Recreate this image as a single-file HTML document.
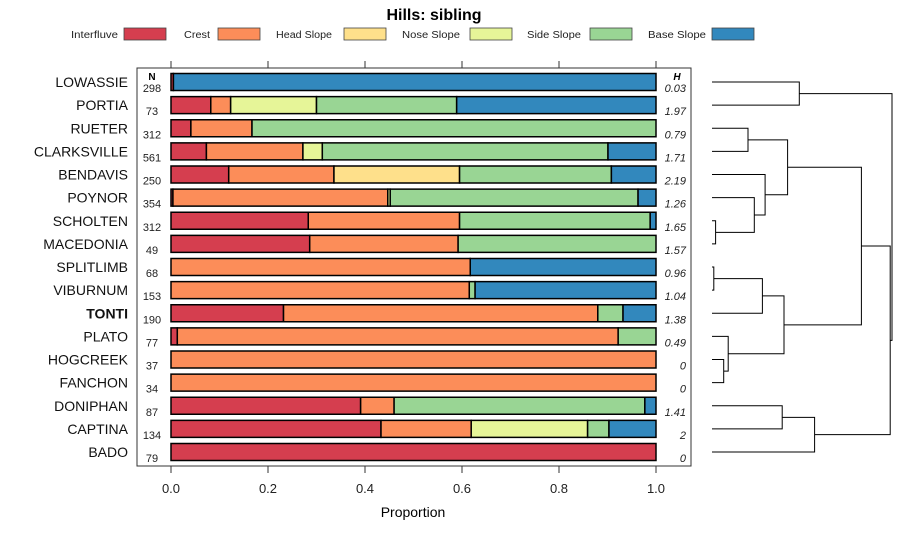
<!DOCTYPE html>
<html><head><meta charset="utf-8"><style>
body{margin:0;background:#fff;}
svg{display:block;font-family:"Liberation Sans",sans-serif;}
</style></head><body>
<svg id="chart" width="900" height="540" viewBox="0 0 900 540" xmlns="http://www.w3.org/2000/svg">
<rect width="900" height="540" fill="#fff"/>
<text x="434" y="20" text-anchor="middle" font-size="16" font-weight="bold">Hills: sibling</text>
<g id="legend"></g>
<rect x="137" y="68" width="554" height="398" fill="none" stroke="#333" stroke-width="1"/>
<g id="bars"></g>
<g id="axes"></g>
<g id="dendro" fill="none" stroke="#000" stroke-width="1"></g>
<text x="413" y="517" text-anchor="middle" font-size="14">Proportion</text>
</svg>
<script>
const classes = ["Interfluve","Crest","Head Slope","Nose Slope","Side Slope","Base Slope"];
const colors = ["#D53E4F","#FC8D59","#FEE08B","#E6F598","#99D594","#3288BD"];
const names = ["LOWASSIE","PORTIA","RUETER","CLARKSVILLE","BENDAVIS","POYNOR","SCHOLTEN","MACEDONIA","SPLITLIMB","VIBURNUM","TONTI","PLATO","HOGCREEK","FANCHON","DONIPHAN","CAPTINA","BADO"];
const counts = [298,73,312,561,250,354,312,49,68,153,190,77,37,34,87,134,79];
const entropy = ["0.03","1.97","0.79","1.71","2.19","1.26","1.65","1.57","0.96","1.04","1.38","0.49","0","0","1.41","2","0"];
const props = [
 [0.005,0,0,0,0,0.995],
 [0.082,0.041,0,0.177,0.289,0.411],
 [0.041,0.126,0,0,0.833,0],
 [0.073,0.199,0,0.040,0.589,0.099],
 [0.119,0.217,0.259,0,0.313,0.092],
 [0.004,0.443,0,0.005,0.511,0.037],
 [0.283,0.312,0,0,0.393,0.012],
 [0.286,0.306,0,0,0.408,0],
 [0,0.617,0,0,0,0.383],
 [0,0.615,0,0,0.012,0.373],
 [0.232,0.648,0,0,0.052,0.068],
 [0.013,0.909,0,0,0.078,0],
 [0,1,0,0,0,0],
 [0,1,0,0,0,0],
 [0.391,0.069,0,0,0.517,0.023],
 [0.433,0.186,0,0.240,0.044,0.097],
 [1,0,0,0,0,0]
];
const xTicks = [0,0.2,0.4,0.6,0.8,1.0];
const xTickLabels = ["0.0","0.2","0.4","0.6","0.8","1.0"];
// dendrogram merges: [left, right, height]; negative = leaf index (-(i+1)), positive = merge number (1-based)
const merges = [
 [-1,-2,0.485],[-3,-4,0.20],[-7,-8,0.02],[-6,3,0.235],[-5,4,0.295],[2,5,0.42],
 [-9,-10,0.01],[-11,7,0.28],[-13,-14,0.065],[-12,9,0.09],[8,10,0.40],[6,11,0.83],
 [-15,-16,0.39],[-17,13,0.57],[12,14,0.99],[1,15,1.0]
];
const NS="http://www.w3.org/2000/svg";
function mk(tag,attrs,parent){const e=document.createElementNS(NS,tag);for(const k in attrs)e.setAttribute(k,attrs[k]);parent.appendChild(e);return e;}
const X0=171,X1=656;
function xs(v){return X0+(X1-X0)*v;}
const Y0=82,DY=23.125,BH=17;
function ys(i){return Y0+DY*i;}
// legend
const lg=document.getElementById('legend');
const lgStart=[71,184,276,402,527,648];
const lgEnd=[118,210,332,460,581,706];
const lgBox=[124,218,344,470,590,712];
classes.forEach((c,i)=>{
 const t=mk('text',{x:lgStart[i],y:38,'font-size':10,fill:'#222',textLength:lgEnd[i]-lgStart[i],lengthAdjust:'spacingAndGlyphs'},lg);t.textContent=c;
 
 
 const r=mk('rect',{x:lgBox[i],y:28,width:42,height:12,fill:colors[i],stroke:'#444','stroke-width':0.8},lg);
 
 
});
// axes
const ax=document.getElementById('axes');
xTicks.forEach((v,i)=>{
 const l1=mk('line',{x1:xs(v),x2:xs(v),y1:61,y2:68,stroke:'#333'},ax);
 
 
 const l2=mk('line',{x1:xs(v),x2:xs(v),y1:466,y2:473,stroke:'#333'},ax);
 
 
 const t=mk('text',{x:xs(v),y:493,'text-anchor':'middle','font-size':13,fill:'#222'},ax);t.textContent=xTickLabels[i];
 
 
});
const nh=mk('text',{x:152,y:80,'text-anchor':'middle','font-size':10,'font-weight':'bold'},ax);nh.textContent='N';


const hh=mk('text',{x:677,y:80,'text-anchor':'middle','font-size':10,'font-weight':'bold','font-style':'italic'},ax);hh.textContent='H';


// bars
const bg=document.getElementById('bars');
names.forEach((n,i)=>{
 const y=ys(i);
 const lab=mk('text',{x:128,y:y+5,'text-anchor':'end','font-size':14,fill:'#111','font-weight':n==='TONTI'?'bold':'normal'},bg);lab.textContent=n;
 
 
 const nt=mk('text',{x:152,y:y+10,'text-anchor':'middle','font-size':11,fill:'#222'},bg);nt.textContent=counts[i];
 
 
 const ht=mk('text',{x:686,y:y+10,'text-anchor':'end','font-size':11,'font-style':'italic',fill:'#222'},bg);ht.textContent=entropy[i];
 
 
 let cum=0;
 props[i].forEach((p,k)=>{
  if(p<=0)return;
  const r=mk('rect',{x:xs(cum),y:y-BH/2,width:xs(cum+p)-xs(cum),height:BH,fill:colors[k],stroke:'#000','stroke-width':1.5},bg);
  
  
  cum+=p;
 });
});
// dendrogram
const dg=document.getElementById('dendro');
const DX0=712,DX1=892;
function hx(h){return DX0+(DX1-DX0)*h;}
const nodeY=[],nodeX=[];
function pos(id){if(id<0){return [DX0,ys(-id-1)];}return [nodeX[id-1],nodeY[id-1]];}
merges.forEach((m,j)=>{
 const a=pos(m[0]),b=pos(m[1]),x=hx(m[2]);
 const p=mk('path',{d:`M${a[0]},${a[1]}H${x}V${b[1]}H${b[0]}`},dg);
 
 
 nodeX.push(x);nodeY.push((a[1]+b[1])/2);
});
</script>
</body></html>
